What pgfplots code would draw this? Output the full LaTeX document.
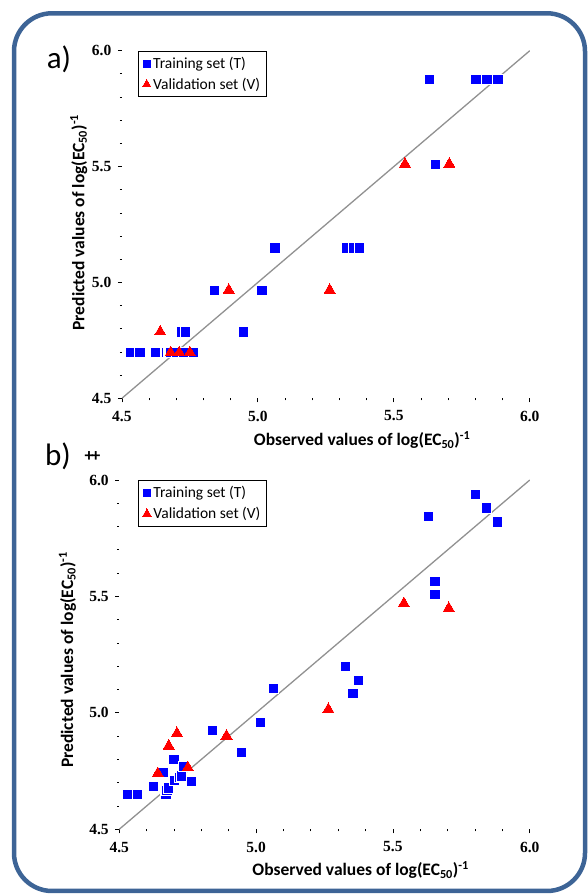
\documentclass[border=0pt]{standalone}
\usepackage{fontspec}
\usepackage{pgfplots}
\pgfplotsset{compat=1.18}
\setmainfont{Carlito}
\newfontfamily\numfont{Liberation Serif}

\definecolor{frameblue}{RGB}{61,100,150}
\definecolor{diag}{RGB}{145,145,145}

% panel a: training / validation
\pgfplotstableread{
x y
4.531 4.697
4.566 4.697
4.624 4.697
4.662 4.697
4.670 4.697
4.674 4.697
4.680 4.697
4.699 4.697
4.701 4.697
4.726 4.697
4.762 4.697
4.718 4.787
4.733 4.787
4.945 4.787
4.840 4.967
5.014 4.967
5.062 5.150
5.325 5.150
5.350 5.150
5.373 5.150
5.653 5.511
5.630 5.878
5.801 5.878
5.842 5.878
5.882 5.878
}\trainA
\pgfplotstableread{
x y
4.641 4.787
4.679 4.697
4.711 4.697
4.750 4.697
4.893 4.967
5.264 4.967
5.541 5.511
5.704 5.511
}\validA

% panel b: training / validation
\pgfplotstableread{
x y
4.531 4.649
4.566 4.649
4.624 4.685
4.662 4.745
4.670 4.649
4.674 4.668
4.680 4.678
4.699 4.802
4.701 4.712
4.718 4.722
4.726 4.730
4.733 4.770
4.762 4.708
4.840 4.927
4.945 4.832
5.014 4.958
5.062 5.107
5.325 5.201
5.353 5.084
5.373 5.141
5.630 5.845
5.653 5.566
5.653 5.511
5.801 5.938
5.842 5.881
5.882 5.821
}\trainB
\pgfplotstableread{
x y
4.641 4.740
4.681 4.858
4.711 4.912
4.751 4.765
4.892 4.901
5.264 5.015
5.540 5.470
5.704 5.449
}\validB

\pgfplotsset{qsar/.style={
    scale only axis,
    xmin=4.5, xmax=6, ymin=4.5, ymax=6,
    axis x line*=bottom, axis y line*=left,
    axis line style={draw=none},
    xtick={4.5,5,5.5,6}, xticklabels={4.5,5.0,5.5,6.0},
    ytick={4.5,5,5.5,6}, yticklabels={4.5,5.0,5.5,6.0},
    minor tick num=4,
    tick align=outside,
    major tick length=4pt, minor tick length=2pt,
    tick style={black, line width=0.8pt},
    ticklabel style={font=\numfont\bfseries\fontsize{15.5}{15.5}\selectfont},
    yticklabel style={xshift=-3pt},
    xticklabel style={yshift=-5pt},
    label style={font=\bfseries\fontsize{17.5}{19}\selectfont},
    xlabel={Observed values of log(EC\textsubscript{50})\textsuperscript{-1}},
    ylabel={Predicted values of log(EC\textsubscript{50})\textsuperscript{-1}},
    legend cell align=left,
    legend style={draw=black, line width=0.8pt,
        font=\fontsize{15.5}{15.5}\selectfont,
        row sep=4pt, inner xsep=4pt, inner ysep=4pt},
}}

\begin{document}
\begin{tikzpicture}[x=1pt,y=1pt]
\useasboundingbox (0,0) rectangle (588,894);
\draw[frameblue, line width=4.5pt, rounded corners=38pt] (14,3) rectangle (585,880.7);

\begin{axis}[qsar,
    at={(121.9pt,495.7pt)}, anchor=south west,
    width=407.9pt, height=347.6pt,
    xlabel style={at={(axis description cs:0.589,-0.12)}, anchor=center},
    ylabel style={at={(axis description cs:-0.106,0.506)}, anchor=center},
    legend style={at={(axis description cs:0.039,1)}, anchor=north west},
]
\addplot[diag, line width=1.3pt, forget plot] coordinates {(4.5,4.5) (6,6)};
\addplot[only marks, mark=square*, mark size=5.1pt,
    mark options={fill=blue, draw=white, line width=0.5pt},
    legend image post style={mark size=4.5pt}] table {\trainA};
\addlegendentry{Training set (T)}
\addplot[only marks, mark=triangle*, mark size=6.4pt,
    mark options={fill=red, draw=red, line width=0pt},
    legend image post style={mark size=4.8pt}] table {\validA};
\addlegendentry{Validation set (V)}
\end{axis}

\begin{axis}[qsar,
    at={(119.2pt,64.7pt)}, anchor=south west,
    width=410.6pt, height=349.3pt,
    xlabel style={at={(axis description cs:0.588,-0.1165)}, anchor=center},
    ylabel style={at={(axis description cs:-0.126,0.485)}, anchor=center},
    legend style={at={(axis description cs:0.046,1)}, anchor=north west},
]
\addplot[diag, line width=1.3pt, forget plot] coordinates {(4.5,4.5) (6,6)};
\addplot[only marks, mark=square*, mark size=5.1pt,
    mark options={fill=blue, draw=white, line width=0.5pt},
    legend image post style={mark size=4.5pt}] table {\trainB};
\addlegendentry{Training set (T)}
\addplot[only marks, mark=triangle*, mark size=6.4pt,
    mark options={fill=red, draw=red, line width=0pt},
    legend image post style={mark size=4.8pt}] table {\validB};
\addlegendentry{Validation set (V)}
\end{axis}

\node at (59,834.5) {\fontsize{31}{31}\selectfont a)};
\node at (58,437.5) {\fontsize{31}{31}\selectfont b)};
\node at (92.5,437.5) {\bfseries\fontsize{18}{18}\selectfont +\kern-0.12em+};
\end{tikzpicture}
\end{document}
